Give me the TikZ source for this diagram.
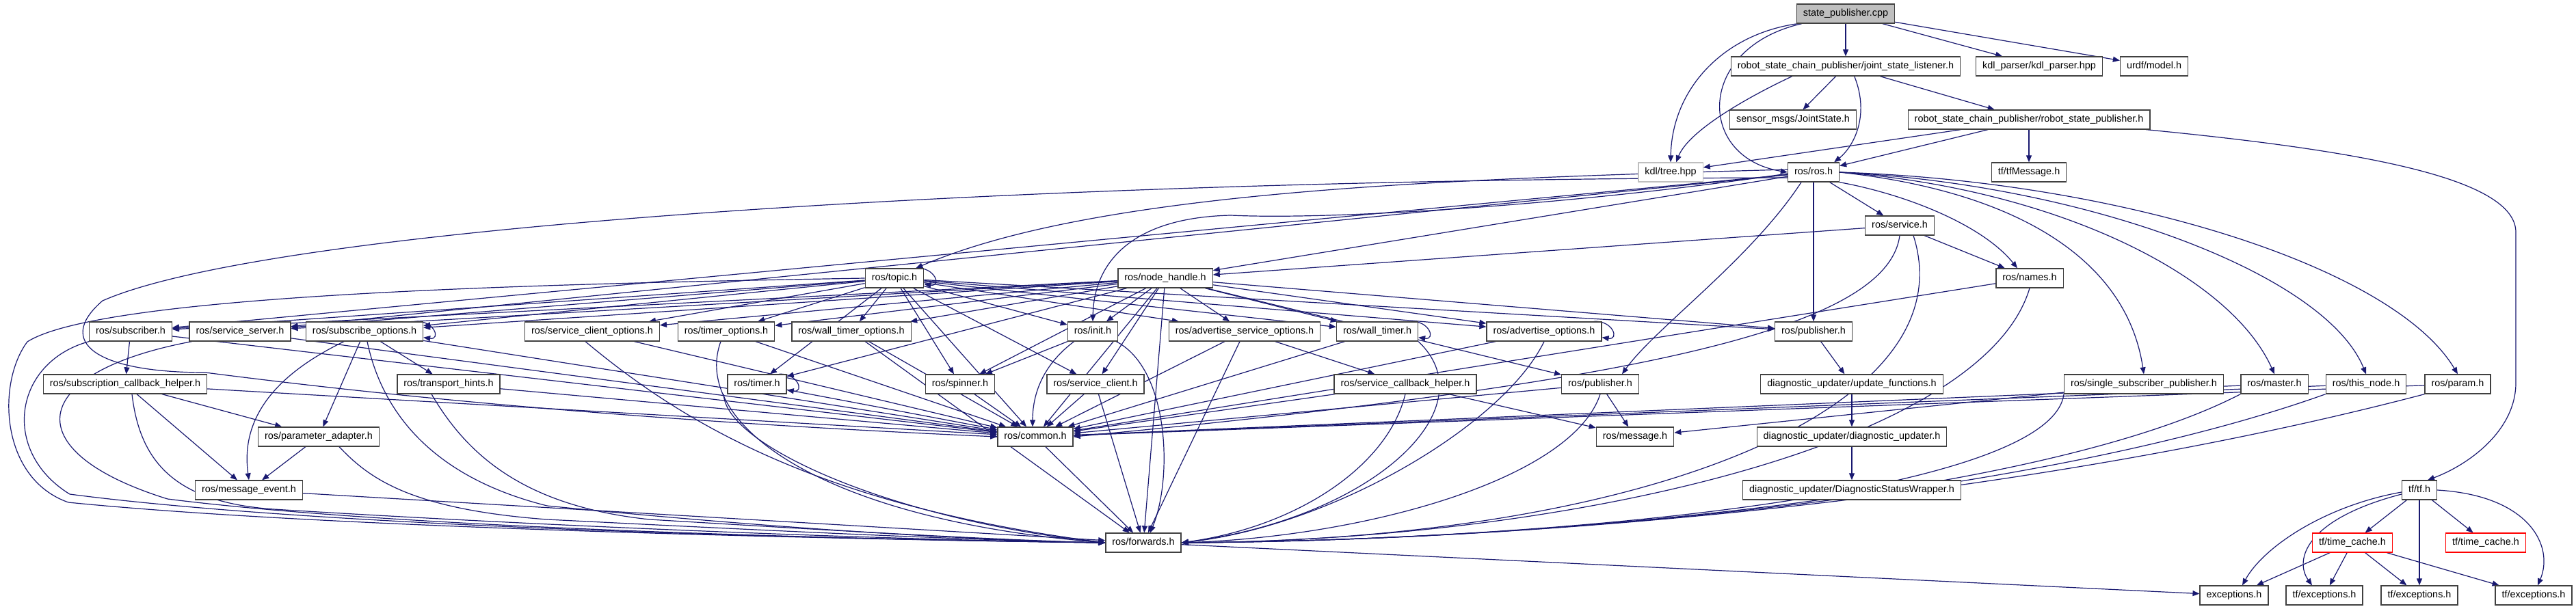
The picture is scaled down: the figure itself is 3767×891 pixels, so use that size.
\documentclass[tikz,border=0pt]{standalone}
\usepackage{fontspec}
\setmainfont{Liberation Sans}
\usepackage{xcolor}
\usetikzlibrary{arrows.meta,backgrounds}

\definecolor{incblue}{HTML}{191970}
\definecolor{srcgray}{HTML}{BFBFBF}
\definecolor{boxline}{HTML}{404040}

% self include loop on the right side of a box
\newcommand{\selfinc}[1]{%
  \draw[inc] ([xshift=-12pt]#1.north east) .. controls +(28,-2) and +(26,4) .. ([yshift=6pt]#1.south east);}

\begin{document}
\begin{tikzpicture}[x=1pt, y=-1pt,
  hdr/.style={rectangle, draw=boxline, line width=1.3pt, fill=white,
              minimum height=28pt, inner xsep=9.5pt, inner ysep=0pt,
              text height=10.5pt, text depth=3pt, font=\fontsize{14.4}{16}\selectfont},
  hdrsrc/.style={hdr, fill=srcgray},
  hdrext/.style={hdr, draw=srcgray},
  hdrmiss/.style={hdr, draw=red},
  inc/.style={draw=incblue, line width=1.2pt, -{Triangle[length=10pt,width=8pt]}},
]
\useasboundingbox (0,0) rectangle (3767,891);

% source file and what it pulls in
\node[hdrsrc] (sp) at (2699,20) {state\_publisher.cpp};
\node[hdr] (jsl) at (2699,97) {robot\_state\_chain\_publisher/joint\_state\_listener.h};
\node[hdr] (kdlp) at (2982,97) {kdl\_parser/kdl\_parser.hpp};
\node[hdr] (urdf) at (3150,97) {urdf/model.h};
\node[hdr] (sensor) at (2622,175) {sensor\_msgs/JointState.h};
\node[hdr] (rsp) at (2967,175) {robot\_state\_chain\_publisher/robot\_state\_publisher.h};
\node[hdrext] (kdltree) at (2443,252) {kdl/tree.hpp};
\node[hdr] (ros) at (2652,252) {ros/ros.h};
\node[hdr] (tfmsg) at (2967,252) {tf/tfMessage.h};
\node[hdr] (service) at (2778,330) {ros/service.h};
\node[hdr] (topic) at (1308,407) {ros/topic.h};
\node[hdr] (nh) at (1704,407) {ros/node\_handle.h};
\node[hdr] (names) at (2968,407) {ros/names.h};

% options row
\node[hdr] (sub) at (191,485) {ros/subscriber.h};
\node[hdr] (srvsrv) at (351,485) {ros/service\_server.h};
\node[hdr] (subopts) at (533,485) {ros/subscribe\_options.h};
\node[hdr] (srvcliopts) at (866,485) {ros/service\_client\_options.h};
\node[hdr] (timeropts) at (1062,485) {ros/timer\_options.h};
\node[hdr] (wtopts) at (1245,485) {ros/wall\_timer\_options.h};
\node[hdr] (init) at (1598,485) {ros/init.h};
\node[hdr] (advsrvopts) at (1820,485) {ros/advertise\_service\_options.h};
\node[hdr] (walltimer) at (2014,485) {ros/wall\_timer.h};
\node[hdr] (advopts) at (2258,485) {ros/advertise\_options.h};
\node[hdr] (pubA) at (2652,485) {ros/publisher.h};

% helpers row
\node[hdr] (sch) at (183,562) {ros/subscription\_callback\_helper.h};
\node[hdr] (thints) at (656,562) {ros/transport\_hints.h};
\node[hdr] (timer) at (1107,562) {ros/timer.h};
\node[hdr] (spinner) at (1404,562) {ros/spinner.h};
\node[hdr] (srvcli) at (1602,562) {ros/service\_client.h};
\node[hdr] (svccbh) at (2055,562) {ros/service\_callback\_helper.h};
\node[hdr] (pubB) at (2340,562) {ros/publisher.h};
\node[hdr] (updfn) at (2708,562) {diagnostic\_updater/update\_functions.h};
\node[hdr] (ssp) at (3135,562) {ros/single\_subscriber\_publisher.h};
\node[hdr] (master) at (3326,562) {ros/master.h};
\node[hdr] (thisnode) at (3460,562) {ros/this\_node.h};
\node[hdr] (param) at (3594,562) {ros/param.h};

% bottom rows
\node[hdr] (padapt) at (466,639) {ros/parameter\_adapter.h};
\node[hdr] (common) at (1514,639) {ros/common.h};
\node[hdr] (message) at (2391,639) {ros/message.h};
\node[hdr] (diagupd) at (2708,639) {diagnostic\_updater/diagnostic\_updater.h};
\node[hdr] (msgevent) at (364,717) {ros/message\_event.h};
\node[hdr] (dsw) at (2708,717) {diagnostic\_updater/DiagnosticStatusWrapper.h};
\node[hdr] (tftf) at (3538,717) {tf/tf.h};
\node[hdr] (forwards) at (1672,794) {ros/forwards.h};
\node[hdrmiss] (tc1) at (3440,794) {tf/time\_cache.h};
\node[hdrmiss] (tc2) at (3635,794) {tf/time\_cache.h};
\node[hdr] (exc) at (3267,871) {exceptions.h};
\node[hdr] (tfe1) at (3399,871) {tf/exceptions.h};
\node[hdr] (tfe2) at (3538,871) {tf/exceptions.h};
\node[hdr] (tfe3) at (3705,871) {tf/exceptions.h};

\begin{scope}[on background layer]
% source file
\draw[inc] (sp) -- (jsl);
\draw[inc] (sp) -- (kdlp);
\draw[inc] (sp) -- (urdf);
\draw[inc] ([xshift=2pt]sp.south west) .. controls (2520,50) and (2445,130) .. (kdltree.north);
\draw[inc] ([xshift=8pt]sp.south west) .. controls (2480,70) and (2480,230) .. (ros.west);

% joint state listener
\draw[inc] ([xshift=90pt]jsl.south west) .. controls (2560,140) and (2470,190) .. ([xshift=8pt]kdltree.north);
\draw[inc] (jsl) -- (sensor);
\draw[inc] ([xshift=181pt]jsl.south west) .. controls (2735,170) and (2710,215) .. ([xshift=-8pt]ros.north east);
\draw[inc] (jsl) -- (rsp);

% robot state publisher
\draw[inc] (rsp) -- (kdltree);
\draw[inc] (rsp) -- (ros);
\draw[inc] (rsp) -- (tfmsg);
\draw[inc] ([xshift=-6pt]rsp.south east) .. controls (3450,220) and (3679,260) .. (3679,340)
  -- (3679,560) .. controls (3679,630) and (3610,680) .. ([xshift=12pt]tftf.north);

% ros/ros.h
\foreach \t in {service,pubA,nh,sub,srvsrv}
  \draw[inc] (ros) -- (\t);
\draw[inc] (ros.south east) .. controls (2790,285) and (2900,330) .. ([xshift=-18pt]names.north);
\draw[inc] ([yshift=4pt]ros.west) .. controls (2100,262) and (1600,280) .. ([xshift=-12pt]topic.north east);
\draw[inc] ([yshift=-2pt]ros.west) .. controls (2300,300) and (1950,322) .. (1800,315)
  .. controls (1660,318) and (1600,380) .. (init.north);
\draw[inc] ([xshift=-18pt]ros.south) .. controls (2560,380) and (2420,480) .. ([xshift=-25pt]pubB.north east);
\draw[inc] (ros.east) .. controls (2950,280) and (3110,380) .. (ssp.north);
\draw[inc] (ros.east) .. controls (3000,275) and (3260,400) .. (master.north);
\draw[inc] (ros.east) .. controls (3050,270) and (3400,400) .. (thisnode.north);
\draw[inc] (ros.east) .. controls (3100,265) and (3500,390) .. (param.north);
\draw[inc] ([yshift=-8pt]ros.west) .. controls (1500,262) and (400,330) .. (150,440)
  .. controls (80,500) and (140,545) .. (300,545) .. controls (420,560) and (800,610) .. (common.west);

% ros/service.h and ros/names.h
\draw[inc] (service) -- (nh);
\draw[inc] (service) -- (names);
\draw[inc] (service.south) .. controls (2760,480) and (2400,560) .. (common.east);
\draw[inc] ([xshift=20pt]service.south) .. controls (2880,600) and (2400,790) .. (forwards.east);
\draw[inc] (names) -- (common);
\draw[inc] (names.south) .. controls (2900,650) and (2300,790) .. (forwards.east);

% ros/topic.h and ros/node_handle.h
\foreach \t in {sub,srvsrv,subopts,srvcliopts,timeropts,wtopts,timer,spinner,srvcli,init,advsrvopts,walltimer,advopts,pubA,common}
  \draw[inc] (topic) -- (\t);
\foreach \t in {sub,srvsrv,subopts,srvcliopts,timeropts,wtopts,timer,spinner,srvcli,init,advsrvopts,walltimer,advopts,pubA,pubB,common,forwards}
  \draw[inc] (nh) -- (\t);
\draw[inc] (topic.west) .. controls (800,415) and (150,430) .. (40,500)
  .. controls (-5,560) and (0,700) .. (100,735) .. controls (500,775) and (1300,790) .. (forwards.west);
\selfinc{topic}

% left group
\draw[inc] (sub) -- (sch);
\draw[inc] (sub.south west) .. controls (20,530) and (0,660) .. (102,723)
  .. controls (500,775) and (1300,790) .. (forwards.west);
\draw[inc] ([xshift=4pt]srvsrv.south west) .. controls (40,545) and (20,660) .. (245,730)
  .. controls (600,775) and (1300,790) .. (forwards.west);
\draw[inc] (subopts) -- (thints);
\draw[inc] (subopts) -- (padapt);
\draw[inc] ([xshift=-30pt]subopts.south) .. controls (420,540) and (350,600) .. (msgevent.north);
\draw[inc] ([xshift=4pt]subopts.south) .. controls (560,610) and (640,700) .. (800,740)
  .. controls (1100,770) and (1400,790) .. (forwards.west);
\selfinc{subopts}
\draw[inc] (sch) -- (padapt);
\draw[inc] (sch) -- (msgevent);
\draw[inc] ([xshift=10pt]sch.south) .. controls (205,680) and (260,735) .. (400,745)
  .. controls (800,770) and (1300,790) .. (forwards.west);
\draw[inc] (padapt) -- (msgevent);
\draw[inc] ([xshift=30pt]padapt.south) .. controls (540,700) and (600,745) .. (800,760)
  .. controls (1100,775) and (1400,790) .. (forwards.west);
\draw[inc] (msgevent) -- (forwards);
\draw[inc] ([xshift=-25pt]thints.south) .. controls (680,660) and (760,740) .. (950,760)
  .. controls (1200,775) and (1450,790) .. (forwards.west);
\foreach \s in {sub,srvsrv,subopts,sch,thints,srvcliopts,timeropts,wtopts,timer,spinner,srvcli}
  \draw[inc] (\s) -- (common);

% middle group
\draw[inc] ([xshift=-10pt]srvcliopts.south) .. controls (1000,620) and (1200,740) .. (forwards.west);
\draw[inc] ([xshift=-8pt]timeropts.south) .. controls (1010,620) and (1200,760) .. (forwards.west);
\draw[inc] (wtopts) -- (forwards);
\draw[inc] ([xshift=-5pt]timer.south west) .. controls (1060,650) and (1300,760) .. (forwards.west);
\selfinc{timer}
\draw[inc] (srvcli) -- (forwards);
\draw[inc] (init) -- (spinner);
\draw[inc] ([xshift=10pt]init.south west) .. controls (1530,530) and (1510,570) .. ([xshift=-4pt]common.north);
\draw[inc] ([xshift=-3pt]init.south east) .. controls (1710,540) and (1715,700) .. ([xshift=10pt]forwards.north);
\draw[inc] (common) -- (forwards);

% right group
\foreach \s in {advsrvopts,walltimer,advopts,svccbh,pubB,master,thisnode,param}
  \draw[inc] (\s) -- (common);
\draw[inc] (advsrvopts) -- (svccbh);
\draw[inc] (advsrvopts) -- (forwards);
\draw[inc] (walltimer.south east) .. controls (2180,600) and (2000,760) .. (forwards.east);
\selfinc{walltimer}
\draw[inc] (advopts.south) .. controls (2200,620) and (1950,770) .. (forwards.east);
\selfinc{advopts}
\draw[inc] (svccbh) -- (message);
\draw[inc] (svccbh.south) .. controls (2030,680) and (1900,770) .. (forwards.east);
\draw[inc] (pubB) -- (message);
\draw[inc] (pubB.south) .. controls (2300,700) and (2000,785) .. (forwards.east);
\draw[inc] (ssp) -- (message);
\foreach \s in {ssp,master,thisnode,param}
  \draw[inc] (\s.south west) .. controls (3000,720) and (2300,790) .. (forwards.east);

% diagnostics chain
\draw[inc] (pubA) -- (updfn);
\draw[inc] (updfn) -- (diagupd);
\draw[inc] (diagupd) -- (dsw);

% tf
\draw[inc] (forwards) -- (exc);
\draw[inc] ([yshift=-3pt]tftf.west) .. controls (3400,740) and (3310,800) .. ([xshift=12pt]exc.north);
\draw[inc] ([yshift=-6pt]tftf.west) .. controls (3370,760) and (3355,820) .. ([xshift=-18pt]tfe1.north);
\draw[inc] (tftf) -- (tc1);
\draw[inc] (tftf) -- (tfe2);
\draw[inc] (tftf) -- (tc2);
\draw[inc] (tftf.east) .. controls (3700,725) and (3735,800) .. ([xshift=6pt]tfe3.north);
\foreach \t in {exc,tfe1,tfe2,tfe3}
  \draw[inc] (tc1) -- (\t);
\end{scope}
\end{tikzpicture}
\end{document}
